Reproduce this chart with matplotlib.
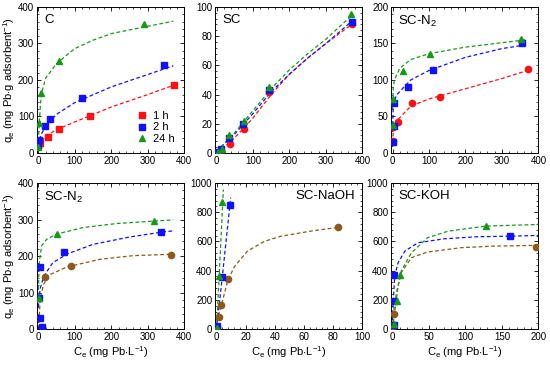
import matplotlib
matplotlib.use('Agg')
import matplotlib.pyplot as plt
from matplotlib.ticker import MultipleLocator, AutoMinorLocator

plt.rcParams['font.family'] = ['Liberation Sans', 'DejaVu Sans']
plt.rcParams['mathtext.fontset'] = 'custom'
plt.rcParams['mathtext.rm'] = 'Liberation Sans'
plt.rcParams['mathtext.it'] = 'Liberation Sans'

red = '#ff1010'
blue = '#1010ff'
green = '#189818'
brown = '#8b5a1a'
lw = 0.9

# ---------------- data: measured points (x = Ce, y = qe) ----------------
# panel C
c_1h_x = [0, 4, 27, 56, 141, 372]
c_1h_y = [18, 26, 44, 67, 102, 186]
c_2h_x = [0, 3, 19, 33, 119, 344]
c_2h_y = [21, 35, 75, 94, 151, 240]
c_24h_x = [0, 3, 8, 58, 289]
c_24h_y = [16, 83, 164, 252, 352]
# fitted curves
c_1h_fx = [0, 5, 20, 50, 100, 200, 300, 372]
c_1h_fy = [18, 26, 46, 64, 85, 126, 160, 186]
c_2h_fx = [0, 3, 10, 25, 50, 100, 200, 300, 370]
c_2h_fy = [20, 38, 55, 80, 106, 138, 181, 215, 239]
c_24h_fx = [0, 1, 3, 8, 20, 50, 100, 150, 200, 300, 370]
c_24h_fy = [16, 45, 90, 160, 205, 245, 286, 309, 327, 347, 361]

# panel SC
sc_1h_x = [4, 13, 36, 75, 143, 370]
sc_1h_y = [0, 2, 6, 16.5, 42, 88]
sc_2h_x = [4, 13, 35, 73, 144, 370]
sc_2h_y = [1, 3, 10, 20, 43, 90]
sc_24h_x = [5, 14, 35, 75, 145, 369]
sc_24h_y = [1, 3, 12, 22, 45, 95]
sc_1h_fx = [0, 36, 75, 100, 150, 200, 250, 300, 370]
sc_1h_fy = [0, 7, 17, 24, 40, 54, 65, 75, 88]
sc_2h_fx = [0, 50, 100, 150, 200, 250, 300, 370]
sc_2h_fy = [1, 13, 27, 42, 54, 65, 75, 90]
sc_24h_fx = [0, 50, 100, 150, 200, 250, 300, 370]
sc_24h_fy = [1, 14, 29, 44, 57, 68, 78, 94]

# panel SC-N2 (top)
n2a_1h_x = [1, 1, 15, 54, 129, 370]
n2a_1h_y = [17, 36, 42, 68, 76, 115]
n2a_2h_x = [1, 3, 4, 43, 111, 354]
n2a_2h_y = [15, 37, 68, 91, 114, 151]
n2a_24h_x = [1, 1, 28, 104, 352]
n2a_24h_y = [38, 74, 112, 136, 156]
n2a_1h_fx = [0, 3, 15, 50, 100, 200, 300, 370]
n2a_1h_fy = [14, 36, 46, 64, 74, 88, 102, 113]
n2a_2h_fx = [0, 2, 10, 50, 100, 200, 300, 365]
n2a_2h_fy = [30, 62, 79, 100, 113, 131, 143, 148]
n2a_24h_fx = [0, 2, 5, 20, 50, 100, 200, 300, 365]
n2a_24h_fy = [60, 88, 100, 116, 128, 136, 145, 151, 155]

# panel SC-N2 (bottom)
n2b_1h_x = [18, 89, 365]
n2b_1h_y = [142, 172, 203]
n2b_2h_x = [9, 4, 3, 4, 71, 335]
n2b_2h_y = [6, 31, 85, 170, 210, 266]
n2b_24h_x = [3, 50, 318]
n2b_24h_y = [85, 260, 297]
n2b_1h_fx = [2, 5, 14, 32, 78, 169, 260, 370]
n2b_1h_fy = [20, 80, 122, 149, 170, 191, 201, 205]
n2b_2h_fx = [0, 5, 15, 40, 80, 150, 250, 335, 370]
n2b_2h_fy = [60, 110, 145, 182, 206, 232, 252, 265, 269]
n2b_24h_fx = [0, 2, 9, 23, 50, 123, 215, 370]
n2b_24h_fy = [90, 177, 228, 246, 260, 278, 289, 299]

# panel SC-NaOH
na_1h_x = [0.4, 1.8, 3.4, 7.9, 83.4]
na_1h_y = [14, 80, 167, 342, 699]
na_2h_x = [0.5, 4, 9]
na_2h_y = [23, 354, 852]
na_24h_x = [0.4, 1.8, 4]
na_24h_y = [7, 360, 868]
na_1h_fx = [0, 1.1, 3.4, 7.9, 12.4, 21, 32.6, 44, 66, 83.4]
na_1h_fy = [7, 87, 167, 338, 429, 532, 600, 635, 673, 696]
na_2h_fx = [0, 4, 9.7]
na_2h_fy = [0, 360, 900]
na_24h_fx = [0, 1.8, 4.7]
na_24h_fy = [0, 360, 955]

# panel SC-KOH
koh_1h_x = [1, 2, 197]
koh_1h_y = [23, 102, 564]
koh_2h_x = [1.4, 1.4, 1.8, 161]
koh_2h_y = [27, 193, 370, 634]
koh_24h_x = [1.4, 6, 10.4, 128]
koh_24h_y = [34, 193, 370, 705]
koh_1h_fx = [0, 2, 5.4, 12, 26, 48, 94, 139, 200]
koh_1h_fy = [0, 136, 250, 386, 489, 527, 557, 568, 573]
koh_2h_fx = [0, 0.5, 3, 7.7, 17, 35, 71, 116, 162, 200]
koh_2h_fy = [60, 136, 364, 455, 534, 591, 618, 632, 636, 641]
koh_24h_fx = [0, 3, 7.7, 12, 26, 48, 76, 128, 200]
koh_24h_fy = [0, 114, 295, 398, 523, 625, 670, 705, 716]

fig = plt.figure(figsize=(5.5, 3.66), dpi=100)

W, H = 0.268, 0.399
lefts = [0.067, 0.391, 0.711]
bottoms = [0.582, 0.101]


def style(ax, xmax, ymax, xmaj, ymaj):
    ax.set_xlim(-0.01 * xmax, xmax)
    ax.set_ylim(0, ymax)
    ax.xaxis.set_major_locator(MultipleLocator(xmaj))
    ax.yaxis.set_major_locator(MultipleLocator(ymaj))
    ax.xaxis.set_minor_locator(AutoMinorLocator(5))
    ax.yaxis.set_minor_locator(AutoMinorLocator(5))
    ax.tick_params(which='both', direction='in', top=True, right=True, labelsize=7, pad=2)
    ax.tick_params(which='major', length=3, width=0.6)
    ax.tick_params(which='minor', length=1.6, width=0.5)
    for s in ax.spines.values():
        s.set_linewidth(0.7)


def series(ax, fx, fy, x, y, color, marker, lcolor=None):
    ax.plot(fx, fy, '--', color=lcolor or color, lw=lw, dashes=(3, 2))
    ms = 4.5 if marker != '^' else 5
    ax.plot(x, y, marker, color=color, ms=ms, mec=color, ls='none', zorder=3)


ylab = r'q$_\mathregular{e}$ (mg Pb$\cdot$g adsorbent$^{-1}$)'
xlab = r'C$_\mathregular{e}$ (mg Pb$\cdot$L$^{-1}$)'

# C
ax = fig.add_axes([lefts[0], bottoms[0], W, H])
series(ax, c_1h_fx, c_1h_fy, c_1h_x, c_1h_y, red, 's')
series(ax, c_2h_fx, c_2h_fy, c_2h_x, c_2h_y, blue, 's')
series(ax, c_24h_fx, c_24h_fy, c_24h_x, c_24h_y, green, '^')
style(ax, 400, 400, 100, 100)
ax.text(0.05, 0.95, 'C', transform=ax.transAxes, fontsize=9.5, va='top', ha='left')
ax.set_ylabel(ylab, fontsize=8, labelpad=1)
hs = [plt.Line2D([], [], ls='none', marker='s', color=red, ms=4.5),
      plt.Line2D([], [], ls='none', marker='s', color=blue, ms=4.5),
      plt.Line2D([], [], ls='none', marker='^', color=green, ms=5)]
ax.legend(hs, ['1 h', '2 h', '24 h'], loc='lower right', frameon=False, fontsize=8,
          handlelength=0.8, handletextpad=0.6, labelspacing=0.1, borderaxespad=0.45)

# SC
ax = fig.add_axes([lefts[1], bottoms[0], W, H])
series(ax, sc_1h_fx, sc_1h_fy, sc_1h_x, sc_1h_y, red, 'o')
series(ax, sc_2h_fx, sc_2h_fy, sc_2h_x, sc_2h_y, blue, 's')
series(ax, sc_24h_fx, sc_24h_fy, sc_24h_x, sc_24h_y, green, '^')
style(ax, 400, 100, 100, 20)
ax.text(0.05, 0.95, 'SC', transform=ax.transAxes, fontsize=9.5, va='top', ha='left')

# SC-N2 top
ax = fig.add_axes([lefts[2], bottoms[0], W, H])
series(ax, n2a_1h_fx, n2a_1h_fy, n2a_1h_x, n2a_1h_y, red, 'o')
series(ax, n2a_2h_fx, n2a_2h_fy, n2a_2h_x, n2a_2h_y, blue, 's')
series(ax, n2a_24h_fx, n2a_24h_fy, n2a_24h_x, n2a_24h_y, green, '^')
style(ax, 400, 200, 100, 50)
ax.text(0.05, 0.95, r'SC-N$_\mathregular{2}$', transform=ax.transAxes, fontsize=9.5, va='top', ha='left')

# SC-N2 bottom
ax = fig.add_axes([lefts[0], bottoms[1], W, H])
series(ax, n2b_1h_fx, n2b_1h_fy, n2b_1h_x, n2b_1h_y, brown, 'o')
series(ax, n2b_2h_fx, n2b_2h_fy, n2b_2h_x, n2b_2h_y, blue, 's')
series(ax, n2b_24h_fx, n2b_24h_fy, n2b_24h_x, n2b_24h_y, green, '^')
style(ax, 400, 400, 100, 100)
ax.text(0.05, 0.95, r'SC-N$_\mathregular{2}$', transform=ax.transAxes, fontsize=9.5, va='top', ha='left')
ax.set_ylabel(ylab, fontsize=8, labelpad=1)
ax.set_xlabel(xlab, fontsize=8, labelpad=2)

# SC-NaOH
ax = fig.add_axes([lefts[1], bottoms[1], W, H])
series(ax, na_1h_fx, na_1h_fy, na_1h_x, na_1h_y, brown, 'o')
series(ax, na_2h_fx, na_2h_fy, na_2h_x, na_2h_y, blue, 's')
series(ax, na_24h_fx, na_24h_fy, na_24h_x, na_24h_y, green, '^')
style(ax, 100, 1000, 20, 200)
ax.text(0.95, 0.95, 'SC-NaOH', transform=ax.transAxes, fontsize=9.5, va='top', ha='right')
ax.set_xlabel(xlab, fontsize=8, labelpad=2)

# SC-KOH
ax = fig.add_axes([lefts[2], bottoms[1], W, H])
series(ax, koh_1h_fx, koh_1h_fy, koh_1h_x, koh_1h_y, brown, 'o')
series(ax, koh_2h_fx, koh_2h_fy, koh_2h_x, koh_2h_y, blue, 's')
series(ax, koh_24h_fx, koh_24h_fy, koh_24h_x, koh_24h_y, green, '^')
style(ax, 200, 1000, 50, 200)
ax.text(0.05, 0.95, 'SC-KOH', transform=ax.transAxes, fontsize=9.5, va='top', ha='left')
ax.set_xlabel(xlab, fontsize=8, labelpad=2)

fig.savefig('out.png', dpi=100)
